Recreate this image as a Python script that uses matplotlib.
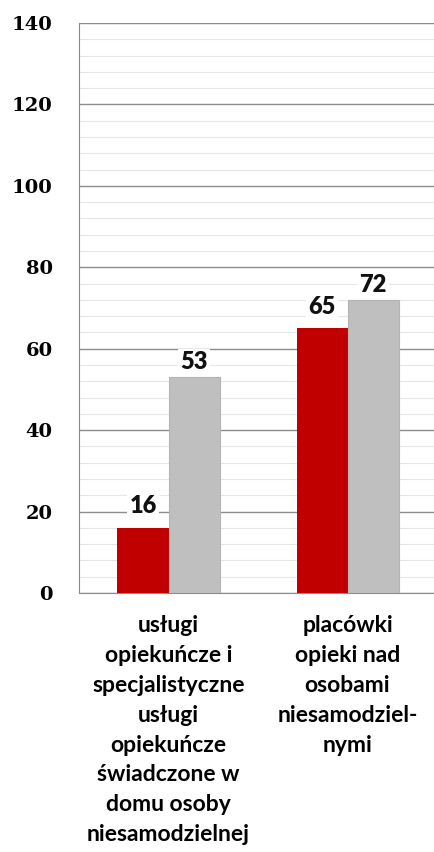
import matplotlib.pyplot as plt
import numpy as np
from matplotlib.ticker import MultipleLocator

categories = ['usługi\nopiekuńcze i\nspecjalistyczne\nusługi\nopiekuńcze\nświadczone w\ndomu osoby\nniesamodzielnej',
              'placówki\nopieki nad\nosobami\nniesamodziel-\nnymi']
red_vals = [16, 65]
grey_vals = [53, 72]

fig = plt.figure(figsize=(4.34, 8.52), dpi=100)
ax = fig.add_axes([0.182, 0.304, 0.825, 0.669])

x = np.arange(len(categories))
w = 0.285
b1 = ax.bar(x - w / 2, red_vals, w, color='#c00000', zorder=3)
b2 = ax.bar(x + w / 2, grey_vals, w, color='#bfbfbf', edgecolor='#b4b4b4', linewidth=0.8, zorder=3)

# value labels, red ones sit a bit higher above their bars
for bars, vals, off in ((b1, red_vals, 3.6), (b2, grey_vals, 1.9)):
    for r, v in zip(bars, vals):
        ax.text(r.get_x() + r.get_width() / 2, v + off, str(v), ha='center', va='baseline',
                fontsize=17, fontweight='heavy', family='Lato', color='#111111', zorder=4,
                bbox=dict(facecolor='white', edgecolor='none', pad=1.5))

ax.set_xlim(-0.5, 1.5)
ax.set_ylim(0, 140)
ax.yaxis.set_major_locator(MultipleLocator(20))
ax.yaxis.set_minor_locator(MultipleLocator(4))
ax.grid(axis='y', which='major', color='#8c8c8c', linewidth=1.0, zorder=0)
ax.grid(axis='y', which='minor', color='#e6e6e6', linewidth=0.8, zorder=0)
ax.set_axisbelow(True)

for s in ('top', 'right'):
    ax.spines[s].set_visible(False)
ax.spines['left'].set_color('#8c8c8c')
ax.spines['bottom'].set_color('#8c8c8c')

ax.tick_params(axis='y', which='both', length=0, pad=19)
ax.tick_params(axis='x', length=0, pad=16)
for t in ax.get_yticklabels():
    t.set_fontsize(14)
    t.set_fontweight('bold')
    t.set_family('DejaVu Serif')

ax.set_xticks(x)
ax.set_xticklabels(categories, fontsize=16.5, fontweight='bold', family='Lato',
                   linespacing=1.52, va='top')

fig.savefig('out.png', dpi=100)
